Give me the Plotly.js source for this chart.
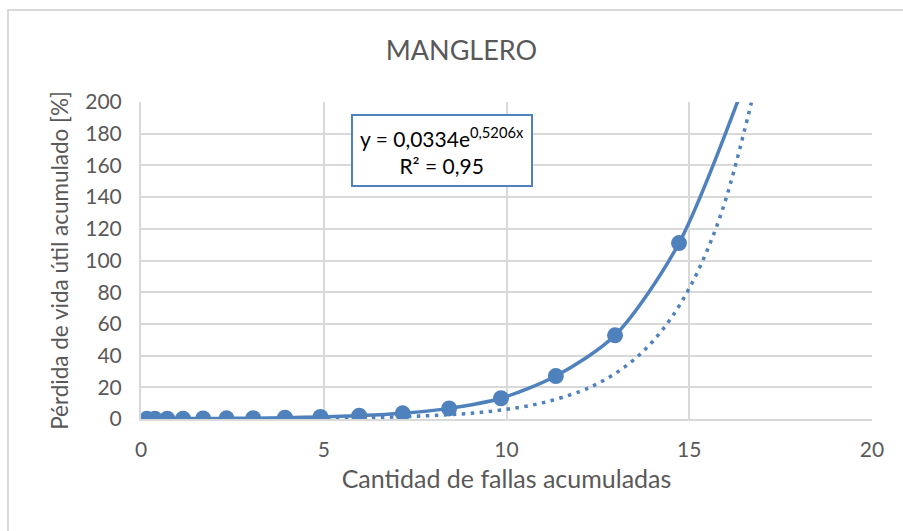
<!DOCTYPE html>
<html>
<head>
<meta charset="utf-8">
<script src="https://cdn.plot.ly/plotly-3.0.1.min.js"></script>
<style>
  body { margin: 0; background: #fff; }
  #chart { width: 903px; height: 531px; }
</style>
</head>
<body>
<div id="chart"></div>
<script>
// datos
const fallas = [0.16, 0.38, 0.72, 1.15, 1.70, 2.34, 3.07, 3.94, 4.91, 5.97, 7.16, 8.43, 9.85, 11.35, 12.97, 14.72, 16.8];
const perdida = [0.1, 0.1, 0.2, 0.2, 0.3, 0.4, 0.5, 0.8, 1.3, 2.1, 3.6, 6.7, 13.1, 27.1, 52.8, 111, 230];

// linea de tendencia exponencial (punteada), valores leidos
const tendX = [0.16, 1, 2, 3, 4, 5, 6, 7, 8, 9, 10, 11, 12, 12.5, 13, 13.5, 14, 14.5, 15, 15.5, 16, 16.7];
const tendY = [0.04, 0.06, 0.09, 0.16, 0.27, 0.45, 0.76, 1.3, 2.2, 3.6, 6.1, 10.3, 17.3, 22.4, 29.1, 37.7, 48.9, 63.5, 82.4, 106.9, 138.6, 199.6];

const azul = '#4F81BD';
const gris = '#595959';
const fuente = 'Lato, "Open Sans", sans-serif';

var trace1 = {
    x: tendX,
    y: tendY,
    mode: 'lines',
    type: 'scatter',
    line: { color: azul, width: 3.5, dash: '3.5px,5.5px', shape: 'spline' },
    hoverinfo: 'skip'
};

var trace2 = {
    x: fallas,
    y: perdida,
    mode: 'lines+markers',
    type: 'scatter',
    line: { color: azul, width: 3.5, shape: 'spline', smoothing: 0.8 },
    marker: { size: 16, color: azul }
};

var layout = {
    width: 903,
    height: 531,
    margin: { l: 141, r: 31, t: 102, b: 112 },
    showlegend: false,
    paper_bgcolor: '#fff',
    plot_bgcolor: '#fff',
    font: { family: fuente, color: gris, size: 18 },
    title: {
        text: 'MANGLERO',
        font: { family: fuente, size: 27, color: gris },
        xref: 'container', x: 0.511, xanchor: 'center',
        yref: 'container', y: 0.904, yanchor: 'middle'
    },
    xaxis: {
        range: [0, 20],
        dtick: 5,
        showgrid: true,
        gridcolor: '#D9D9D9',
        gridwidth: 2,
        zeroline: false,
        showline: true,
        linecolor: '#D9D9D9',
        linewidth: 2,
        ticks: '',
        ticklabelstandoff: 11,
        tickfont: { size: 21 },
        title: { text: 'Cantidad de fallas acumuladas', font: { size: 25 }, standoff: 10 }
    },
    yaxis: {
        range: [0, 200],
        dtick: 20,
        showgrid: true,
        gridcolor: '#D9D9D9',
        gridwidth: 2,
        zeroline: false,
        showline: true,
        linecolor: '#D9D9D9',
        linewidth: 2,
        ticks: '',
        ticklabelstandoff: 13,
        tickfont: { size: 21 },
        title: { text: 'Pérdida de vida útil acumulado [%]', font: { size: 22.5 }, standoff: 10 }
    },
    shapes: [{
        type: 'rect', xref: 'paper', yref: 'paper',
        x0: -0.182, x1: 1.2, y0: -0.6, y1: 1.29,
        line: { color: '#D9D9D9', width: 2 }
    }],
    annotations: [{
        xref: 'x', yref: 'y',
        x: 8.24, y: 169.4,
        text: 'y = 0,0334e<sup>0,5206x</sup><br>R² = 0,95',
        showarrow: false,
        align: 'center',
        font: { family: fuente, size: 21, color: '#000' },
        bgcolor: '#fff',
        bordercolor: azul,
        borderwidth: 2,
        borderpad: 7
    }]
};

Plotly.newPlot('chart', [trace1, trace2], layout, { displayModeBar: false, staticPlot: true });
</script>
</body>
</html>
